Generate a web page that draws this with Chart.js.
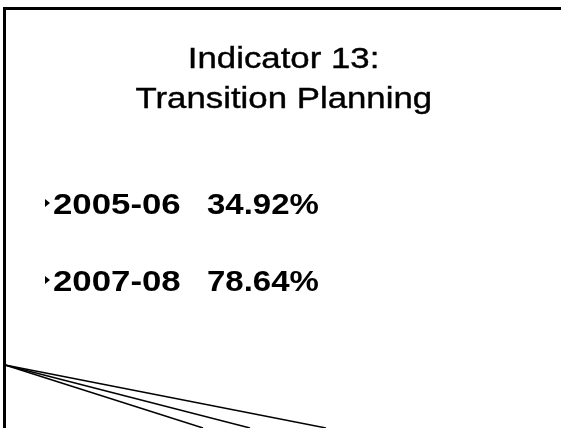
<!DOCTYPE html>
<html>
<head>
<meta charset="utf-8">
<script src="https://cdn.jsdelivr.net/npm/chart.js@4/dist/chart.umd.min.js"></script>
<style>
  html, body { margin: 0; padding: 0; background: #fff; overflow: hidden; }
  #slide { position: relative; width: 561px; height: 428px; overflow: hidden; font-family: "Liberation Sans", Arial, sans-serif; color: #000; }
  #frame { position: absolute; left: 3px; top: 7px; width: 700px; height: 600px; border-top: 3px solid #000; border-left: 3px solid #000; }
  canvas { position: absolute; left: 0; top: 0; }
  .title { position: absolute; left: 0; width: 568px; text-align: center; font-size: 30px; line-height: 30px; -webkit-text-stroke: 0.4px #000; }
  .title span, .row span { display: inline-block; transform: scaleX(1.16); }
  .title span { transform-origin: center; }
  .row { position: absolute; font-size: 30px; line-height: 30px; font-weight: bold; white-space: nowrap; }
  .row span { transform-origin: left; }
  .row.pct span { transform: scaleX(1.1); }
  .bullet { position: absolute; width: 0; height: 0; border-left: 5px solid #000; border-top: 4px solid transparent; border-bottom: 4px solid transparent; }
</style>
</head>
<body>
<div id="slide">
  <div id="frame"></div>
  <canvas id="lines" width="561" height="428"></canvas>
  <div id="titles"></div>
  <div id="rows"></div>
</div>
<script>
'use strict';

// slide values
var titleLines = ["Indicator 13:", "Transition Planning"];
var years = ["2005-06", "2007-08"];
var percents = ["34.92%", "78.64%"];

// the fan of lines in the lower left corner
var lineStart = { x: 5, y: 365 };
var lineEndsX = [203, 250, 326];
var lineEndY = 428;

function buildTitle() {
	var box = document.getElementById("titles");
	titleLines.forEach(function(t, i) {
		var d = document.createElement("div");
		d.className = "title";
		d.style.top = (43 + i * 40) + "px";
		d.innerHTML = "<span>" + t + "</span>";
		box.appendChild(d);
	});
}

function buildRows() {
	var rows = document.getElementById("rows");
	for (var i = 0; i < years.length; i++) {
		var baseline = 214 + i * 77;
		var b = document.createElement("div");
		b.className = "bullet";
		b.style.left = "45px";
		b.style.top = (baseline - 15) + "px";
		rows.appendChild(b);

		var y = document.createElement("div");
		y.className = "row";
		y.style.left = "53px";
		y.style.top = (baseline - 25) + "px";
		y.innerHTML = "<span>" + years[i] + "</span>";
		rows.appendChild(y);

		var p = document.createElement("div");
		p.className = "row pct";
		p.style.left = "207px";
		p.style.top = (baseline - 25) + "px";
		p.innerHTML = "<span>" + percents[i] + "</span>";
		rows.appendChild(p);
	}
}

function drawLines() {
	var datasets = lineEndsX.map(function(x) {
		return {
			data: [lineStart, { x: x, y: lineEndY }],
			borderColor: "#000",
			borderWidth: 1.5,
			pointRadius: 0,
			showLine: true,
			clip: false
		};
	});
	new Chart(document.getElementById("lines"), {
		type: "scatter",
		data: { datasets: datasets },
		options: {
			responsive: false,
			animation: false,
			layout: { padding: 0 },
			plugins: { legend: { display: false }, tooltip: { enabled: false } },
			scales: {
				x: { display: false, min: 0, max: 561 },
				y: { display: false, min: 0, max: 428, reverse: true }
			}
		}
	});
}

buildTitle();
buildRows();
drawLines();
</script>
</body>
</html>
